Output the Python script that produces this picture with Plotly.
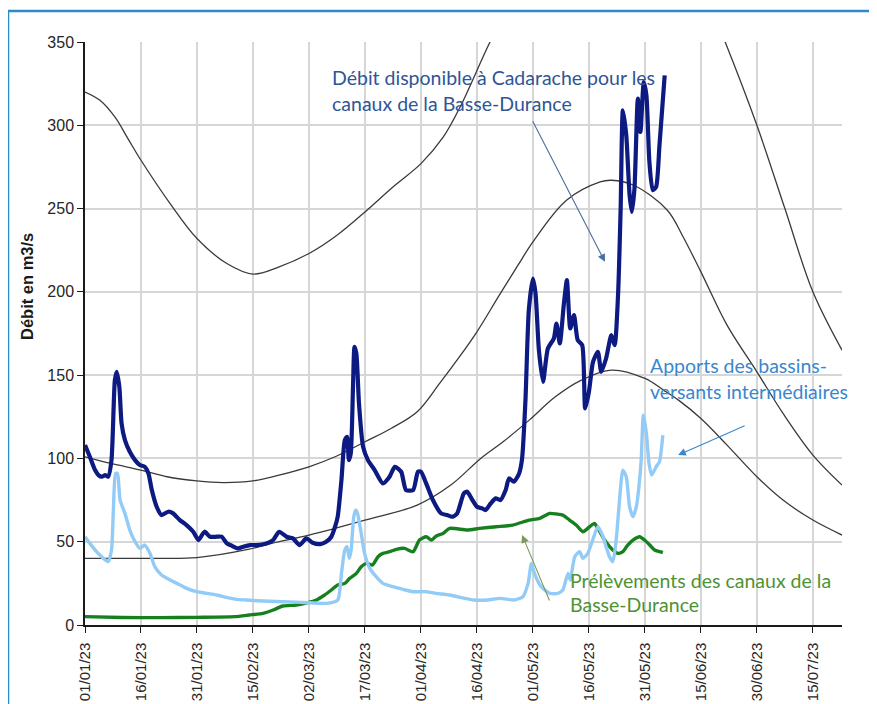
import pandas as pd
import plotly.graph_objects as go

BASE = pd.Timestamp("2023-01-01")

# ---- Data (day offsets from 01/01/23, values in m3/s) ----
debit_days = [0, 1.3, 2.7, 3.6, 4.5, 5.4, 6.2, 7.1, 8, 8.5, 9.2, 9.8, 10.7, 12, 13.4, 14.7, 16, 17, 17.9,
              19.2, 20.5, 22.3, 23.6, 25.4, 27.2, 29, 30.4, 32, 33.5, 35.3, 36.6, 38, 39.3, 41, 42.4, 44.2,
              46, 48.6, 50.4, 52, 54, 55.7, 57.5, 59.3, 61, 63, 64.6, 66, 67, 67.7, 68.7, 69.6, 70.2, 70.7,
              71.2, 71.8, 72.2, 72.7, 73.4, 74.5, 75.8, 77.6, 79.8, 81.6, 83, 84.7, 86, 87.9, 89.2, 90,
              91.4, 93.2, 95.4, 97, 98.4, 99.7, 101.5, 102.4, 103.8, 105, 106.4, 107.3, 108.7, 110, 111.3,
              112.7, 113.6, 114.9, 116.3, 117.1, 118, 118.9, 120, 120.7, 121.6, 122.7, 124, 125.6, 126.3,
              127.2, 128.3, 129.1, 130, 131, 132, 133.2, 134, 135, 136.1, 137.4, 138.3, 139.6, 141, 141.9,
              142.8, 143.5, 144.1, 145, 145.9, 146.5, 147.2, 148.1, 148.8, 149.7, 150.4, 151.2, 152.1, 153,
              153.9, 155.3]
debit_vals = [108, 101, 93, 90, 89, 90, 89, 99, 147, 152, 143, 121, 111, 104, 99, 96, 95, 91, 81,
              71, 66, 68, 67, 63, 60, 56, 51, 56, 53, 53, 53, 49, 47.6, 46, 47, 48,
              48, 49, 51, 56, 53, 52, 48, 52, 49.4, 48.6, 50, 53, 59, 65, 87, 111, 113, 99,
              103, 143, 167, 163, 133, 107, 99, 93, 85, 89, 95, 92, 81, 81, 92, 92,
              85, 75, 67, 66, 65, 67, 79, 80, 75, 71, 70, 69, 73, 76, 75,
              81, 88, 86, 91, 100, 135, 189, 208, 199, 165, 146, 166, 172, 181,
              169, 193, 207, 178, 186, 171, 168, 130, 140, 158, 164, 152, 160, 174, 168,
              198, 250, 309, 294, 258, 248, 262, 316, 296, 326, 318, 278, 261, 263,
              288, 330]

apports_days = [0, 1.3, 3.1, 4.9, 6.2, 7.1, 7.6, 8.2, 8.7, 9.4, 10.7, 12, 13.4, 14.7, 16, 17.4, 18.7, 20.5,
                22.8, 24.6, 27.2, 29.9, 32.6, 35.3, 37.9, 40.6, 43.3, 46, 53, 60, 64.6, 67.7, 68.7, 69.6,
                70.2, 70.8, 71.3, 72, 72.5, 73, 74, 74.9, 76.3, 78, 79.8, 82.5, 85.2, 87.9, 91.4, 94,
                97.7, 104.2, 107.8, 111.3, 114.9, 117.3, 118.7, 119.6, 120.4, 122.2, 124.5, 126.7, 128,
                129.4, 130, 131.2, 132.5, 133.4, 134.7, 136, 137.4, 138.8, 139.6, 140.5, 141.4, 142.3,
                143.2, 144.1, 145, 145.9, 146.8, 147.7, 148.4, 149, 149.6, 150.4, 151.1, 151.8, 153,
                153.9, 154.8]
apports_vals = [53, 49, 44, 40, 38, 45, 69, 91, 91, 75, 67, 57, 50, 46, 48, 43, 35, 30,
                27, 25, 22, 20, 19, 18, 16.6, 15.4, 15, 14.6, 14, 13.4, 13, 15, 31, 45,
                47, 40, 45, 65, 69, 67, 55, 43, 34, 29, 25, 23, 21.4, 20, 20, 19,
                18, 15, 15, 16, 15, 17, 25, 37, 31, 23, 19, 19, 21,
                31, 27, 41, 44, 40, 43, 51, 59, 53, 47, 41, 38, 51,
                75, 93, 89, 71, 65, 71, 83, 99, 126, 115, 97, 90, 95,
                98, 114]

prelev_days = [0, 10, 20, 30, 40, 44, 47.7, 50.4, 53, 56.6, 59.7, 62, 64.2, 66, 67.7, 69.6, 70.9, 72.7,
               74, 75.4, 77, 78.5, 79.8, 81.6, 83.4, 85.6, 87.9, 89.6, 91.4, 92.8, 94.1, 95.9, 97.7,
               102.4, 105.7, 110.2, 114.6, 119, 121.8, 124.5, 126.3, 128, 129.8, 131.6, 133.4, 135.2,
               136.5, 137.4, 139.2, 141.4, 142.8, 144.1, 145.4, 146.8, 148.6, 149.9, 151.3, 152.6,
               153.9, 154.8]
prelev_vals = [5, 4.5, 4.4, 4.6, 5, 6, 7, 9, 11.4, 12, 13.4, 15, 18, 21, 24, 25, 28, 31,
               35, 37, 36, 41, 43, 44, 45.4, 46, 44, 51, 53, 51, 53.4, 55, 58,
               57, 58, 59, 60, 63, 64, 67, 66.6, 66, 63, 60, 56, 59,
               61, 58, 51, 45, 43, 44, 48, 51, 53, 51, 48, 45,
               44, 43.4]

# reference curves (black)
ref_high_days = [0, 4, 8, 11.5, 15, 22.8, 30, 38, 45, 52, 60, 67.5, 75, 82.5, 90, 96, 100.5, 108.5, 115,
                 125, 140, 155, 165, 171.5, 180, 187.5, 195, 202.8]
ref_high_vals = [320, 315, 305, 292, 279, 253, 232, 217, 210.7, 215, 223, 234, 248, 263, 277, 293, 311,
                 350, 378, 410, 430, 415, 385, 350, 300, 250, 200, 165]

ref_mid_days = [0, 7, 15, 22, 30, 37, 45, 52, 60, 67, 75, 82, 89, 95, 100, 105, 111, 116, 120, 129, 138,
                141, 147, 156, 160, 165, 172, 180, 187, 195, 202.8]
ref_mid_vals = [101, 97, 93, 89, 86.5, 85.5, 86.5, 90, 95, 101, 110, 118, 128, 145, 160, 176, 198, 216,
                230, 255, 266, 267, 264, 249, 234, 212, 180, 152, 127, 102, 84]

ref_low_days = [0, 10, 20, 30, 44, 50, 60, 75, 89, 98, 106, 112, 119, 126, 133, 141, 150, 155, 159, 165,
                172, 180, 187, 195, 202.8]
ref_low_vals = [40, 40, 40, 40.5, 45.5, 49, 54, 63, 72, 84, 100, 110, 123, 137, 147, 153, 148, 141, 135,
                124, 108, 89, 75, 63, 54]

tick_labels = ["01/01/23", "16/01/23", "31/01/23", "15/02/23", "02/03/23", "17/03/23", "01/04/23",
               "16/04/23", "01/05/23", "16/05/23", "31/05/23", "15/06/23", "30/06/23", "15/07/23"]


def to_dates(days):
    return [BASE + pd.to_timedelta(d, unit="D") for d in days]


def day_date(d):
    return BASE + pd.to_timedelta(d, unit="D")


tick_vals = [pd.to_datetime(t, format="%d/%m/%y") for t in tick_labels]

fig = go.Figure()

for dd, vv in [(ref_high_days, ref_high_vals), (ref_mid_days, ref_mid_vals), (ref_low_days, ref_low_vals)]:
    fig.add_trace(go.Scatter(x=to_dates(dd), y=vv, mode="lines",
                             line=dict(color="#3a3a3a", width=1.3, shape="spline", smoothing=1.0),
                             hoverinfo="skip", showlegend=False))

fig.add_trace(go.Scatter(x=to_dates(prelev_days), y=prelev_vals, mode="lines",
                         line=dict(color="#17801e", width=3.4, shape="spline", smoothing=0.6),
                         showlegend=False))
fig.add_trace(go.Scatter(x=to_dates(apports_days), y=apports_vals, mode="lines",
                         line=dict(color="#93cbf7", width=3.4, shape="spline", smoothing=0.6),
                         showlegend=False))
fig.add_trace(go.Scatter(x=to_dates(debit_days), y=debit_vals, mode="lines",
                         line=dict(color="#0c1a82", width=4.2, shape="spline", smoothing=0.6),
                         showlegend=False))

# page offset of the figure (browser default body margin)
OFF = 8
W, H = 877 - OFF, 704 - OFF
PLOT_X0, PLOT_X1, PLOT_Y0, PLOT_Y1 = 85, 842, 42, 625   # target screen pixels
L, R = PLOT_X0 - OFF, W - (PLOT_X1 - OFF)
T, B = PLOT_Y0 - OFF, H - (PLOT_Y1 - OFF)
PW, PH = PLOT_X1 - PLOT_X0, PLOT_Y1 - PLOT_Y0


def px(x):
    return (x - PLOT_X0) / PW


def py(y):
    return (PLOT_Y1 - y) / PH


ann_font = "Lato, Open Sans, sans-serif"
FS = 19.5
annotations = [
    dict(x=px(330), y=py(78), text="Débit disponible à Cadarache pour les", font=dict(color="#2f5597", size=FS, family=ann_font)),
    dict(x=px(330), y=py(104), text="canaux de la Basse-Durance", font=dict(color="#2f5597", size=FS, family=ann_font)),
    dict(x=px(648), y=py(366), text="Apports des bassins-", font=dict(color="#3a87cf", size=FS, family=ann_font)),
    dict(x=px(648), y=py(391), text="versants intermédiaires", font=dict(color="#3a87cf", size=FS, family=ann_font)),
    dict(x=px(568), y=py(580), text="Prélèvements des canaux de la", font=dict(color="#4f9233", size=FS, family=ann_font)),
    dict(x=px(568), y=py(604), text="Basse-Durance", font=dict(color="#4f9233", size=FS, family=ann_font)),
]
for a in annotations:
    a.update(xref="paper", yref="paper", xanchor="left", yanchor="middle", showarrow=False)

annotations.append(dict(xref="paper", yref="paper", x=px(27), y=py(287), text="<b>Débit en m3/s</b>",
                        textangle=-90, showarrow=False, xanchor="center", yanchor="middle",
                        font=dict(family="Arial, Liberation Sans, sans-serif", size=16.5, color="#1a1a1a")))

arrows = [
    (139.3, 218, -73, -142, "#4a6ea0"),
    (158.9, 102, 68, -30, "#3a87cf"),
    (117.1, 54, 28, 67, "#7a9a5a"),
]
for d, v, ax, ay, col in arrows:
    annotations.append(dict(x=day_date(d), y=v, xref="x", yref="y", ax=ax, ay=ay, text="",
                            showarrow=True, arrowhead=2, arrowsize=1.4, arrowwidth=1.1, arrowcolor=col,
                            standoff=0))

fig.update_layout(
    width=W, height=H,
    margin=dict(l=L, r=R, t=T, b=B, pad=0, autoexpand=False),
    paper_bgcolor="white", plot_bgcolor="white",
    annotations=annotations,
    shapes=[dict(type="rect", xref="paper", yref="paper", x0=px(8), x1=px(900), y0=py(730), y1=py(11),
                 line=dict(color="#2e8bc9", width=2.5), layer="above")],
    font=dict(family="Arial, Liberation Sans, sans-serif", color="#404040"),
)

fig.update_xaxes(type="date", range=[day_date(0), day_date(202.8)], automargin=False,
                 tickvals=tick_vals, ticktext=tick_labels, tickangle=-90, ticklabelstandoff=4,
                 showgrid=True, gridcolor="#d6d6d6", gridwidth=1.6,
                 showline=True, linecolor="#1a1a1a", linewidth=1.5,
                 ticks="outside", ticklen=6, tickcolor="#1a1a1a", tickwidth=1.3,
                 tickfont=dict(size=15, color="#262626"), zeroline=False)
fig.update_yaxes(range=[0, 350], tickvals=[0, 50, 100, 150, 200, 250, 300, 350], automargin=False,
                 showgrid=True, gridcolor="#d6d6d6", gridwidth=1.6,
                 showline=True, linecolor="#1a1a1a", linewidth=1.5,
                 ticks="outside", ticklen=6, tickcolor="#1a1a1a", tickwidth=1.3,
                 tickfont=dict(size=16, color="#262626"), zeroline=False)

fig.write_html("out.html")
